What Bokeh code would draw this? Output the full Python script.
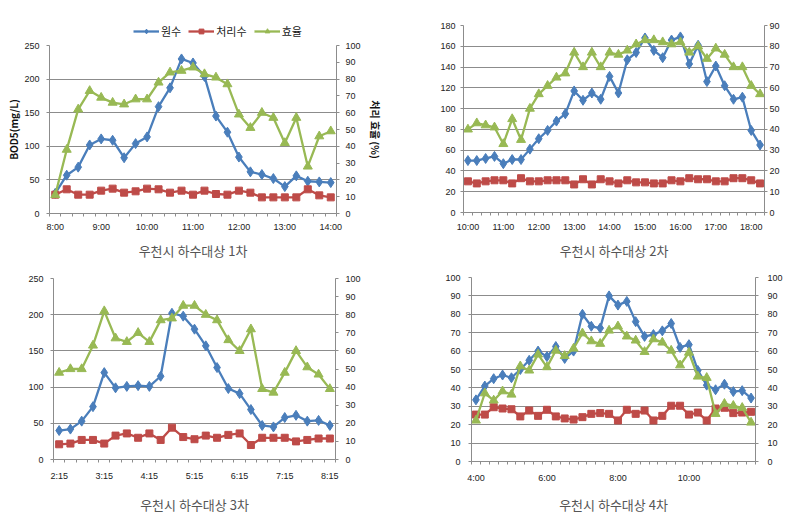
from bokeh.plotting import figure
from bokeh.models import Range1d, LinearAxis, FixedTicker, Legend, LegendItem
from bokeh.layouts import column, row
from bokeh.embed import file_html
from bokeh.resources import INLINE

# ---------------- data ----------------
series_names = ["원수", "처리수", "효율"]
titles = ["우천시 하수대상 1차", "우천시 하수대상 2차", "우천시 하수대상 3차", "우천시 하수대상 4차"]
left_label = "BOD5(mg/L)"
right_label = "처리 효율 (%)"

# Panel 1 (15-minute samples)
ticks1 = ["8:00", "9:00", "10:00", "11:00", "12:00", "13:00", "14:00"]
raw1 = [30, 57, 69, 102, 111, 109, 83, 104, 114, 159, 187, 230, 224, 204, 145, 121, 84, 62, 58, 52, 40, 56, 48, 47, 46]
treated1 = [28, 36, 28, 28, 34, 37, 31, 33, 37, 36, 31, 34, 28, 34, 29, 28, 34, 31, 24, 24, 24, 24, 36, 27, 24]
eff1 = [11, 38, 62, 73, 69, 66, 65, 68, 68, 78, 84, 85, 87, 83, 81, 77, 59, 51, 60, 57, 42, 57, 28, 46, 49]

# Panel 2
ticks2 = ["10:00", "11:00", "12:00", "13:00", "14:00", "15:00", "16:00", "17:00", "18:00"]
raw2 = [50, 50, 52, 54, 47, 51, 51, 61, 71, 79, 88, 95, 117, 108, 115, 109, 131, 115, 147, 154,
        168, 156, 149, 166, 169, 143, 161, 126, 141, 122, 109, 111, 79, 65]
treated2 = [30, 28, 30, 31, 31, 28, 33, 30, 30, 31, 31, 31, 27, 32, 27, 32, 30, 28, 31, 29,
            29, 28, 28, 31, 30, 33, 32, 32, 30, 30, 33, 33, 31, 28]
eff2 = [40, 43, 42, 41, 33, 45, 35, 50, 57, 61, 65, 67, 77, 70, 77, 70, 77, 76, 78, 81,
        83, 83, 82, 81, 82, 77, 80, 74, 79, 76, 70, 70, 61, 57]

# Panel 3
ticks3 = ["2:15", "3:15", "4:15", "5:15", "6:15", "7:15", "8:15"]
raw3 = [40, 42, 53, 73, 120, 99, 101, 102, 101, 115, 202, 198, 180, 157, 127, 98, 91, 69, 47, 45, 58, 61, 53, 54, 47]
treated3 = [21, 22, 27, 27, 22, 33, 36, 30, 36, 27, 44, 31, 28, 33, 30, 34, 36, 20, 30, 30, 30, 25, 27, 29, 29]
eff3 = [48, 50, 50, 63, 82, 67, 65, 70, 65, 77, 78, 85, 85, 80, 77, 66, 60, 72, 39, 37, 48, 60, 51, 47, 39]

# Panel 4
ticks4 = ["4:00", "6:00", "8:00", "10:00"]
raw4 = [33.5, 41, 45, 47, 45.5, 50, 55, 60, 57, 62.5, 56, 60, 80, 73.5, 72.5, 90, 85, 87, 76, 68,
        69, 71, 75, 62, 63.5, 49.5, 41.5, 39, 42, 38, 38.5, 34.5]
treated4 = [25.5, 25.5, 29.5, 28.8, 28.4, 24.5, 27.7, 24.8, 28.1, 24.5, 23.4, 22.8, 24.1, 25.9, 26.3, 25.9,
            22.3, 28.1, 25.9, 27.7, 22.3, 24.8, 30.3, 30.3, 25.5, 26.6, 22.3, 28.8, 29.2, 26.3, 26.6, 27]
eff4 = [22.3, 37.1, 33.2, 38.2, 36.4, 51.8, 49.5, 58.2, 51.3, 60.3, 57.4, 61.4, 69.7, 65.4, 64, 71.2,
        73.5, 68, 65.8, 59.6, 66.5, 64.7, 60.3, 52.3, 59.2, 46.2, 45.5, 25.9, 31.4, 30.3, 29.2, 21.2]

# ---------------- style ----------------
BLUE = "#4A7EBB"
RED = "#BE4B48"
GREEN = "#98B954"
GRID = "#8C8C8C"
AXIS = "#8C8C8C"
NUM_FONT = "Liberation Sans"
KR_FONT = "Noto Sans CJK KR"
LW = 2.3
STYLES = [dict(color=BLUE, marker="diamond", size=10),
          dict(color=RED, marker="square", size=7),
          dict(color=GREEN, marker="triangle", size=9)]


def draw_series(p, xs, ys, st, **kw):
    ln = p.line(xs, ys, line_color=st["color"], line_width=LW, **kw)
    sc = p.scatter(xs, ys, marker=st["marker"], size=st["size"], fill_color=st["color"],
                   line_color=st["color"], **kw)
    return ln, sc


def make_panel(raw, treated, eff, tick_labels, step, left_max, left_step, right_max, right_step,
               title, width, height, borders, std, ylabels=False):
    n = len(raw)
    xs = list(range(n))
    bl, br, bt, bb = borders
    p = figure(width=width, height=height, output_backend="svg", toolbar_location=None,
               x_range=Range1d(-0.5, n - 0.5), y_range=Range1d(0, left_max),
               min_border_left=bl, min_border_right=br, min_border_top=bt, min_border_bottom=bb,
               frame_align=False)
    p.extra_y_ranges = {"eff": Range1d(0, right_max)}
    p.outline_line_color = None
    p.xgrid.visible = False
    p.ygrid.grid_line_color = GRID
    p.ygrid.grid_line_width = 1

    # x axis
    xa = p.xaxis[0]
    major = [i * step for i in range(len(tick_labels))]
    xa.ticker = FixedTicker(ticks=major, minor_ticks=[i - 0.5 for i in range(n + 1)])
    xa.major_label_overrides = {m: lab for m, lab in zip(major, tick_labels)}
    xa.major_tick_line_color = None
    xa.major_tick_out = 3
    xa.major_tick_in = 0
    xa.minor_tick_line_color = AXIS
    xa.minor_tick_out = 3
    xa.minor_tick_in = 0
    xa.axis_line_color = AXIS
    xa.major_label_text_font = NUM_FONT
    xa.major_label_text_font_size = "9px"
    xa.major_label_text_color = "#222222"
    xa.major_label_standoff = std[0]
    xa.axis_label = title
    xa.axis_label_text_font = KR_FONT
    xa.axis_label_text_font_size = "13px"
    xa.axis_label_text_font_style = "normal"
    xa.axis_label_text_color = "#555555"
    xa.axis_label_standoff = std[1]

    # left axis
    ya = p.yaxis[0]
    ya.ticker = FixedTicker(ticks=list(range(0, left_max + 1, left_step)))
    ya.axis_line_color = AXIS
    ya.major_tick_line_color = AXIS
    ya.major_tick_out = 3
    ya.major_tick_in = 0
    ya.minor_tick_line_color = None
    ya.major_label_text_font = NUM_FONT
    ya.major_label_text_font_size = "9px"
    ya.major_label_text_color = "#222222"
    ya.major_label_standoff = std[2]

    # right axis
    ra = LinearAxis(y_range_name="eff", ticker=FixedTicker(ticks=list(range(0, right_max + 1, right_step))))
    ra.axis_line_color = AXIS
    ra.major_tick_line_color = AXIS
    ra.major_tick_out = 3
    ra.major_tick_in = 0
    ra.minor_tick_line_color = None
    ra.major_label_text_font = NUM_FONT
    ra.major_label_text_font_size = "9px"
    ra.major_label_text_color = "#222222"
    ra.major_label_standoff = std[3]
    if ylabels:
        ya.axis_label = left_label
        ya.axis_label_text_font = KR_FONT
        ya.axis_label_text_font_size = "10px"
        ya.axis_label_text_font_style = "bold"
        ya.axis_label_text_color = "#111111"
        ya.axis_label_standoff = 0
        ra.axis_label = right_label
        ra.axis_label_text_font = KR_FONT
        ra.axis_label_text_font_size = "10px"
        ra.axis_label_text_font_style = "bold"
        ra.axis_label_text_color = "#111111"
        ra.axis_label_standoff = 4
    p.add_layout(ra, "right")

    draw_series(p, xs, raw, STYLES[0])
    draw_series(p, xs, treated, STYLES[1])
    draw_series(p, xs, eff, STYLES[2], y_range_name="eff")
    return p


# legend strip above panel 1 (its own series renderers are kept outside the visible ranges)
lf = figure(width=400, height=40, output_backend="svg", toolbar_location=None,
            x_axis_type=None, y_axis_type=None, x_range=Range1d(-1001, -1000), y_range=Range1d(-1001, -1000),
            min_border_left=0, min_border_right=0, min_border_top=0, min_border_bottom=0,
            frame_align=False)
lf.outline_line_color = None
lf.grid.visible = False
items = []
xs1 = list(range(len(raw1)))
for name, st, ys in zip(series_names, STYLES, [raw1, treated1, eff1]):
    ln, sc = draw_series(lf, xs1, ys, st)
    items.append(LegendItem(label=name, renderers=[ln, sc]))
lg = Legend(items=items, orientation="horizontal", location=(133, 1),
            background_fill_alpha=0, border_line_color=None, padding=0, margin=0,
            spacing=7, label_standoff=2, glyph_width=26, glyph_height=12, label_height=12,
            label_text_font=KR_FONT, label_text_font_size="11px", label_text_color="#222222")
lf.add_layout(lg, "center")

p1 = make_panel(raw1, treated1, eff1, ticks1, 4, 250, 50, 100, 10, titles[0], 400, 223,
                (49, 64, 5, 50), (5, 6, 7, 6), ylabels=True)
p2 = make_panel(raw2, treated2, eff2, ticks2, 4, 180, 20, 90, 10, titles[1], 389, 263,
                (63, 25, 25, 51), (6, 6, 5, 2))
p3 = make_panel(raw3, treated3, eff3, ticks3, 4, 250, 50, 100, 10, titles[2], 400, 254,
                (53, 65, 15, 58), (8, 11, 7, 7))
p4 = make_panel(raw4, treated4, eff4, ticks4, 8, 100, 10, 100, 10, titles[3], 389, 254,
                (71, 34, 14, 56), (8, 9, 8, 9))

layout = column(row(column(lf, p1), p2), row(p3, p4))
open("out.html", "w").write(file_html(layout, INLINE))
